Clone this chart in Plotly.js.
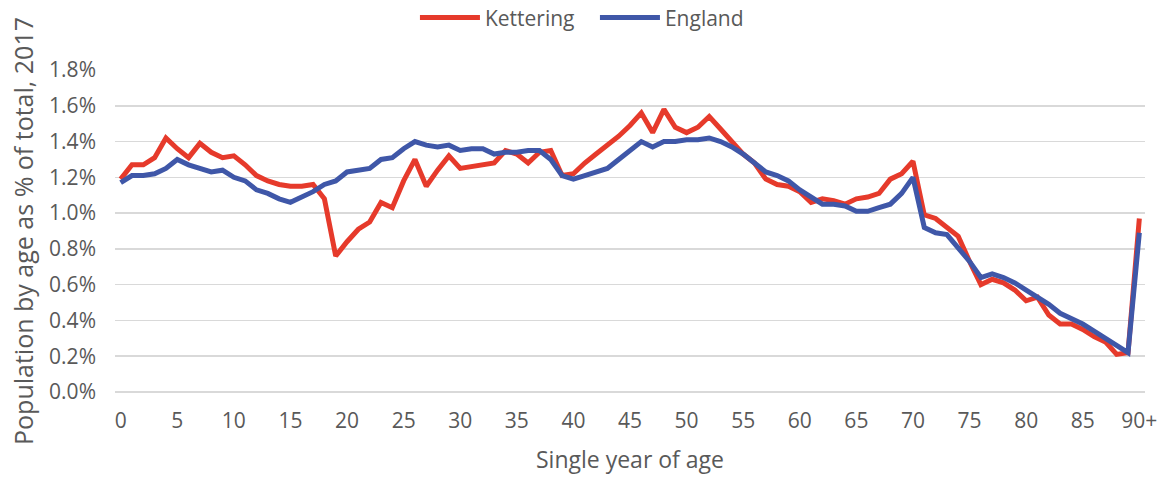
<!DOCTYPE html>
<html>
<head>
<meta charset="utf-8">
<script src="https://cdn.plot.ly/plotly-3.0.1.min.js"></script>
<style>html,body{margin:0;padding:0;background:#fff;}#chart{width:1162px;height:480px;}</style>
</head>
<body>
<div id="chart"></div>
<script>
const ages = Array.from({length: 91}, (_, i) => i);
const tickVals = [0,5,10,15,20,25,30,35,40,45,50,55,60,65,70,75,80,85,90];
const tickLabels = ["0","5","10","15","20","25","30","35","40","45","50","55","60","65","70","75","80","85","90+"];

const kettering = [
  1.19,1.27,1.27,1.31,1.42,1.36,1.31,1.39,1.34,1.31,
  1.32,1.27,1.21,1.18,1.16,1.15,1.15,1.16,1.08,0.76,
  0.84,0.91,0.95,1.06,1.03,1.18,1.30,1.15,1.24,1.32,
  1.25,1.26,1.27,1.28,1.35,1.33,1.28,1.34,1.35,1.21,
  1.22,1.28,1.33,1.38,1.43,1.49,1.56,1.45,1.58,1.48,
  1.45,1.48,1.54,1.47,1.40,1.33,1.28,1.19,1.16,1.15,
  1.12,1.06,1.08,1.07,1.05,1.08,1.09,1.11,1.19,1.22,
  1.29,0.99,0.97,0.92,0.87,0.73,0.60,0.63,0.61,0.57,
  0.51,0.53,0.43,0.38,0.38,0.35,0.31,0.28,0.21,0.22,
  0.97
];
const england = [
  1.17,1.21,1.21,1.22,1.25,1.30,1.27,1.25,1.23,1.24,
  1.20,1.18,1.13,1.11,1.08,1.06,1.09,1.12,1.16,1.18,
  1.23,1.24,1.25,1.30,1.31,1.36,1.40,1.38,1.37,1.38,
  1.35,1.36,1.36,1.33,1.34,1.34,1.35,1.35,1.30,1.21,
  1.19,1.21,1.23,1.25,1.30,1.35,1.40,1.37,1.40,1.40,
  1.41,1.41,1.42,1.40,1.37,1.33,1.28,1.23,1.21,1.18,
  1.13,1.09,1.05,1.05,1.04,1.01,1.01,1.03,1.05,1.11,
  1.20,0.92,0.89,0.88,0.81,0.73,0.64,0.66,0.64,0.61,
  0.57,0.53,0.49,0.44,0.41,0.38,0.34,0.30,0.26,0.22,
  0.89
];

const font = "'Open Sans', sans-serif";
const grey = '#595959';

const traces = [
  {x: ages, y: kettering, name: 'Kettering', type: 'scatter', mode: 'lines',
   line: {color: '#E63A2B', width: 5}},
  {x: ages, y: england, name: 'England', type: 'scatter', mode: 'lines',
   line: {color: '#3F57A8', width: 5}}
];

const layout = {
  width: 1162, height: 480,
  margin: {l: 115, r: 17, t: 70, b: 88},
  paper_bgcolor: '#fff', plot_bgcolor: '#fff',
  font: {family: font, color: grey, size: 21},
  showlegend: true,
  legend: {orientation: 'h', xref: 'container', yref: 'container', x: 0.512, xanchor: 'center',
           y: 0.963, yanchor: 'middle', font: {size: 21, color: grey}, itemwidth: 60,
           entrywidth: 105, tracegroupgap: 0},
  xaxis: {
    range: [-0.5, 90.5], tickmode: 'array', tickvals: tickVals, ticktext: tickLabels,
    showgrid: false, zeroline: false, showline: false, ticks: '',
    ticklabelstandoff: 14,
    tickfont: {size: 21, color: grey},
    title: {text: 'Single year of age', font: {size: 23, color: grey}, standoff: 18}
  },
  yaxis: {
    range: [0, 1.8], dtick: 0.2, tickformat: '.1f', ticksuffix: '%',
    showgrid: true, gridcolor: '#d9d9d9', gridwidth: 1.5,
    zeroline: true, zerolinecolor: '#d9d9d9', zerolinewidth: 1.5,
    showline: false, ticks: '',
    ticklabelstandoff: 18,
    tickfont: {size: 21, color: grey},
    title: {text: 'Population by age as % of total, 2017', font: {size: 25, color: grey}, standoff: 8}
  }
};

Plotly.newPlot('chart', traces, layout, {displayModeBar: false, staticPlot: true});
</script>
</body>
</html>
